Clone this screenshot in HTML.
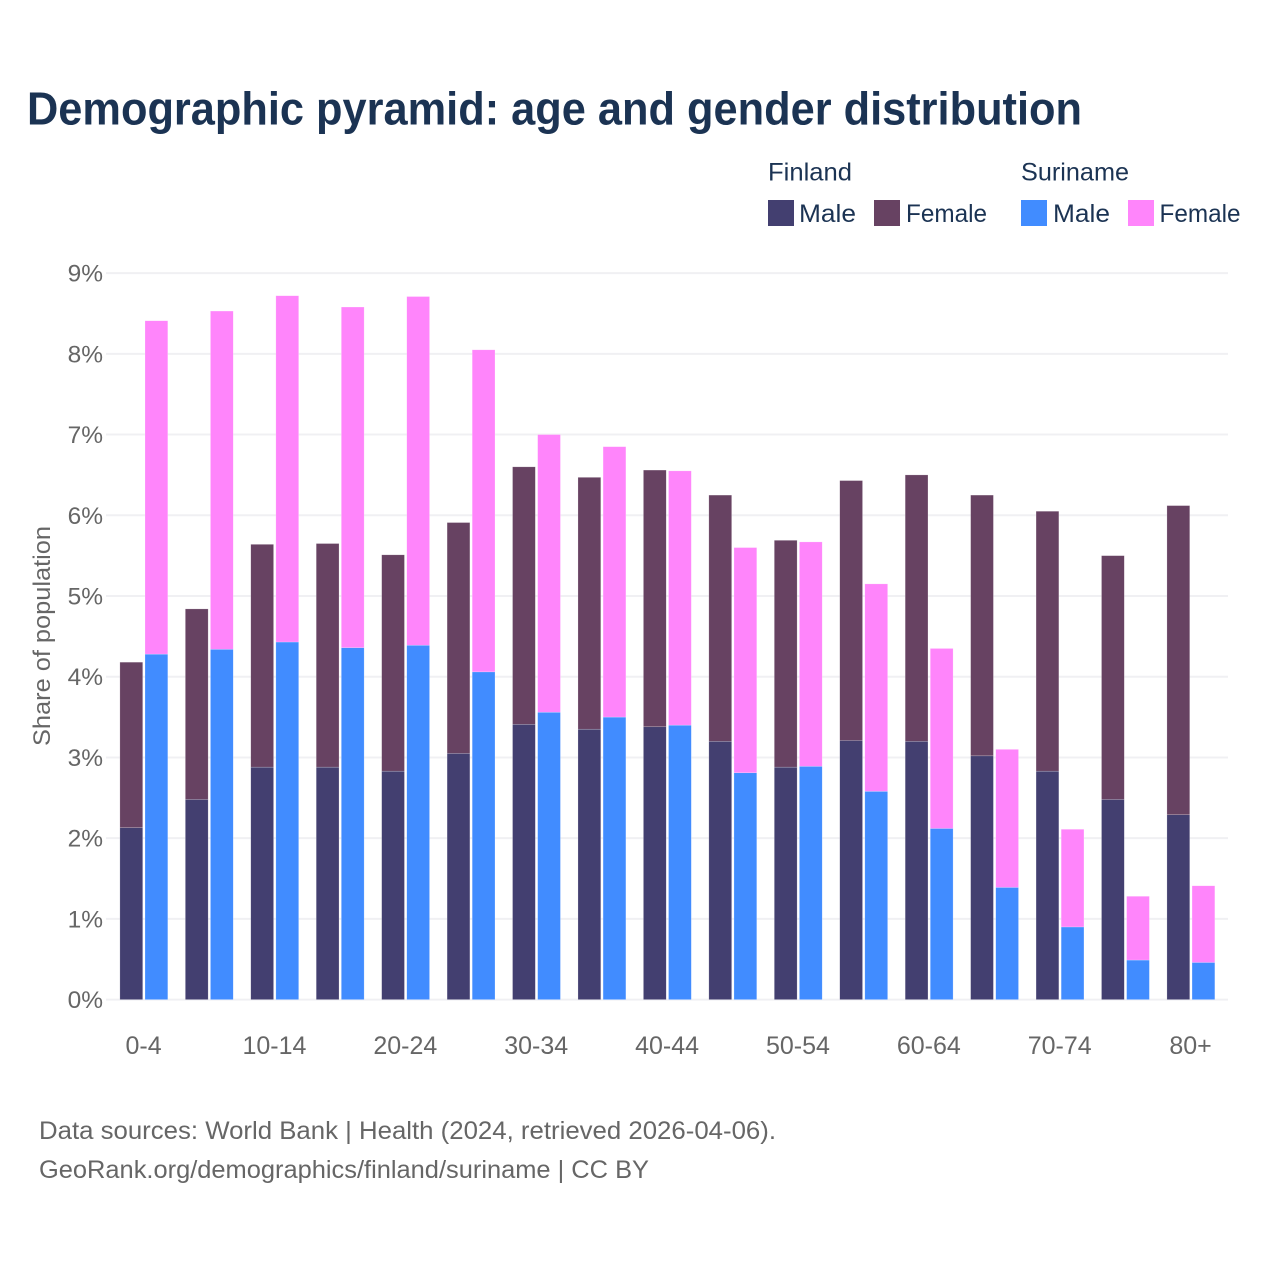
<!DOCTYPE html>
<html lang="en">
<head>
<meta charset="utf-8">
<title>Demographic pyramid: age and gender distribution</title>
<style>
  html, body { margin: 0; padding: 0; background: #ffffff; }
  svg { display: block; font-family: "Liberation Sans", sans-serif; }
</style>
</head>
<body>
<svg id="chart" xmlns="http://www.w3.org/2000/svg" width="1280" height="1280" viewBox="0 0 1280 1280">
  <rect x="0" y="0" width="1280" height="1280" fill="#ffffff"/>
  <text x="27" y="124.5" font-size="46" font-weight="700" fill="#1b3353" textLength="1055" lengthAdjust="spacingAndGlyphs">Demographic pyramid: age and gender distribution</text>

  <g font-size="25" fill="#1b3353">
    <text x="768" y="180.5" textLength="84" lengthAdjust="spacingAndGlyphs">Finland</text>
    <text x="1021" y="180.5" textLength="108" lengthAdjust="spacingAndGlyphs">Suriname</text>
    <rect x="768" y="200" width="26" height="26" fill="#433f70"/>
    <text x="799" y="222" textLength="57" lengthAdjust="spacingAndGlyphs">Male</text>
    <rect x="874" y="200" width="26" height="26" fill="#674262"/>
    <text x="906" y="222" textLength="81" lengthAdjust="spacingAndGlyphs">Female</text>
    <rect x="1021" y="200" width="26" height="26" fill="#418cff"/>
    <text x="1053" y="222" textLength="57" lengthAdjust="spacingAndGlyphs">Male</text>
    <rect x="1128" y="200" width="26" height="26" fill="#ff85fb"/>
    <text x="1159.5" y="222" textLength="81" lengthAdjust="spacingAndGlyphs">Female</text>
  </g>

  <g id="grid"></g>
  <g id="y-ticks"></g>
  <g id="bars"></g>
  <g id="x-ticks"></g>

  <text transform="translate(50 636) rotate(-90)" text-anchor="middle" font-size="24.5" fill="#666666" textLength="220" lengthAdjust="spacingAndGlyphs">Share of population</text>

  <text x="39" y="1139" font-size="25" fill="#666666" textLength="737" lengthAdjust="spacingAndGlyphs">Data sources: World Bank | Health (2024, retrieved 2026-04-06).</text>
  <text x="39" y="1178" font-size="25" fill="#666666" textLength="610" lengthAdjust="spacingAndGlyphs">GeoRank.org/demographics/finland/suriname | CC BY</text>
</svg>
<script>
const categories = ["0-4","5-9","10-14","15-19","20-24","25-29","30-34","35-39","40-44","45-49","50-54","55-59","60-64","65-69","70-74","75-79","80+"];
const finlandMale = [2.13,2.48,2.88,2.88,2.83,3.05,3.41,3.35,3.38,3.20,2.88,3.21,3.20,3.02,2.83,2.48,2.29];
const finlandFemale = [2.05,2.36,2.76,2.77,2.68,2.86,3.19,3.12,3.18,3.05,2.81,3.22,3.30,3.23,3.22,3.02,3.83];
const surinameMale = [4.28,4.34,4.43,4.36,4.39,4.06,3.56,3.50,3.40,2.81,2.89,2.58,2.12,1.39,0.90,0.49,0.46];
const surinameFemale = [4.13,4.19,4.29,4.22,4.32,3.99,3.44,3.35,3.15,2.79,2.78,2.57,2.23,1.71,1.21,0.79,0.95];
const yTickValues = [0,1,2,3,4,5,6,7,8,9];
const yTickLabels = ["0%","1%","2%","3%","4%","5%","6%","7%","8%","9%"];

const NS = "http://www.w3.org/2000/svg";
const plotBottom = 999.6;
const unit = 80.72;
const groupStart = 119.9;
const groupStep = 65.44;
const barWidth = 22.8;
const barGap = 2.3;

function yScale(v) { return plotBottom - v * unit; }
function groupX(i) { return groupStart + i * groupStep; }

function make(tag, attrs, parent) {
  const el = document.createElementNS(NS, tag);
  for (const k in attrs) el.setAttribute(k, attrs[k]);
  parent.appendChild(el);
  return el;
}

const gridG = document.getElementById("grid");
const yTicksG = document.getElementById("y-ticks");
yTickValues.forEach(function (v, i) {
  const line = make("line", { x1: 106, x2: 1228, y1: yScale(v), y2: yScale(v), stroke: "#f0f0f3", "stroke-width": 2 }, gridG);
  
  
  const label = make("text", { x: 103, y: yScale(v) + 8.5, "text-anchor": "end", "font-size": 24.5, fill: "#666666" }, yTicksG);
  
  
  label.textContent = yTickLabels[i];
});

const barsG = document.getElementById("bars");
function drawBar(x, lower, height, color) {
  const bar = make("rect", {
    x: x,
    y: yScale(lower + height),
    width: barWidth,
    height: height * unit,
    fill: color,
    stroke: "#ffffff",
    "stroke-opacity": 0.4,
    "stroke-width": 0.5
  }, barsG);
  
  
}

categories.forEach(function (cat, i) {
  const x1 = groupX(i);
  const x2 = x1 + barWidth + barGap;
  drawBar(x1, 0, finlandMale[i], "#433f70");
  drawBar(x1, finlandMale[i], finlandFemale[i], "#674262");
  drawBar(x2, 0, surinameMale[i], "#418cff");
  drawBar(x2, surinameMale[i], surinameFemale[i], "#ff85fb");
});

const xTicksG = document.getElementById("x-ticks");
categories.forEach(function (cat, i) {
  if (i % 2 !== 0) return;
  const label = make("text", { x: groupX(i) + barWidth + barGap / 2 - 0.3, y: 1054, "text-anchor": "middle", "font-size": 25, fill: "#666666" }, xTicksG);
  
  
  label.textContent = cat;
});
</script>
</body>
</html>
